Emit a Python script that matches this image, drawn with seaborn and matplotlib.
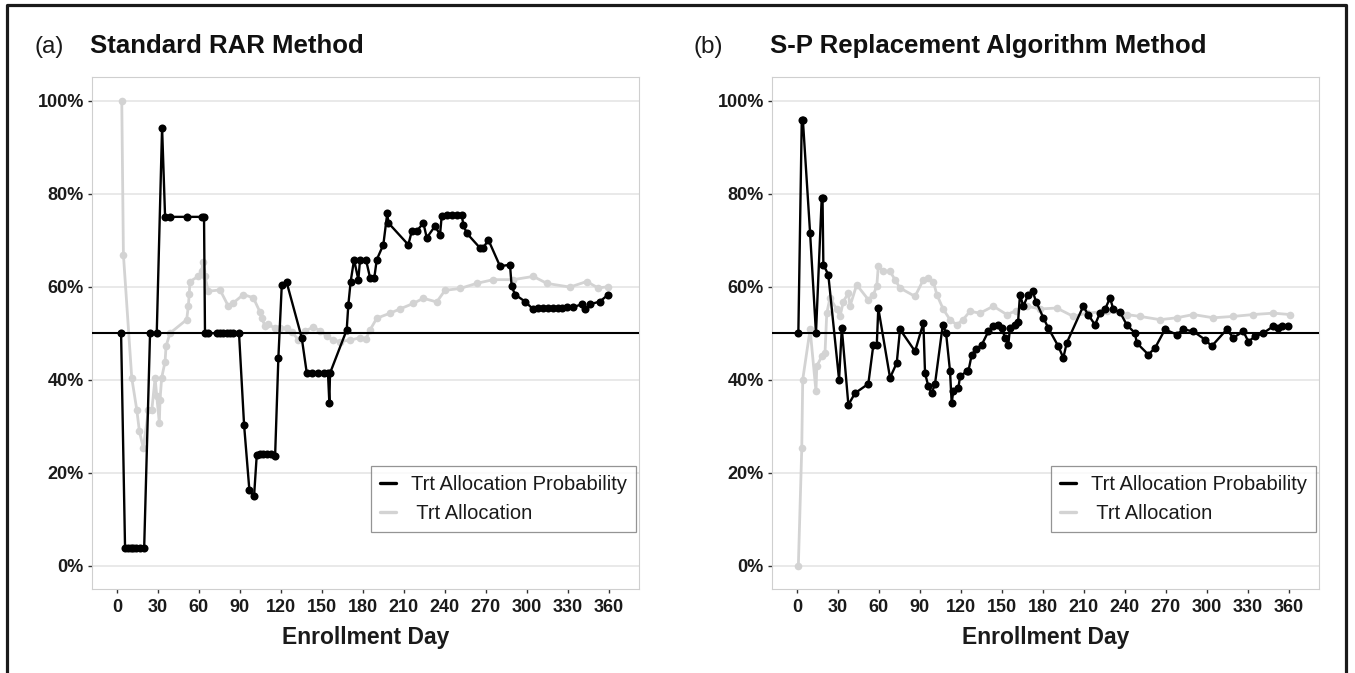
import matplotlib
matplotlib.use("Agg")
import matplotlib.pyplot as plt
import numpy as np
import pandas as pd
import seaborn as sns
from matplotlib.lines import Line2D
from matplotlib.ticker import PercentFormatter

# ---------------- data (percent) ----------------
a_prob_day = [3.1, 6.0, 8.0, 10.0, 12.0, 14.0, 17.0, 20.0, 24.3, 29.2, 33.1, 35.3, 38.9, 51.6, 62.1, 63.8,
              64.5, 66.7, 73.1, 75.5, 77.7, 80.4, 82.8, 85.0, 89.4, 93.1, 97.0, 100.4, 102.4, 104.8, 107.0,
              110.0, 112.8, 115.8, 118.2, 120.7, 124.3, 135.3, 139.0, 142.8, 147.2, 151.6, 154.5, 155.5,
              156.0, 168.2, 169.4, 171.1, 173.6, 176.7, 178.0, 182.3, 185.3, 188.4, 190.2, 195.0, 197.9,
              198.7, 213.3, 215.8, 219.4, 224.3, 226.8, 232.8, 236.5, 237.7, 241.4, 245.0, 248.7, 252.4,
              253.5, 256.0, 265.8, 268.2, 271.8, 280.4, 287.7, 288.9, 291.4, 298.7, 304.8, 308.2, 311.9,
              315.5, 319.2, 322.8, 325.5, 329.2, 334.0, 340.2, 342.6, 346.2, 353.5, 359.6]
a_prob_val = [50, 3.9, 3.9, 3.9, 3.9, 3.9, 3.9, 3.9, 50, 50, 94.2, 75, 75, 75, 75, 75,
              50, 50, 50, 50, 50, 50, 50, 50, 50, 30.3, 16.2, 14.9, 23.9, 24, 24,
              24, 24, 23.5, 44.7, 60.4, 60.9, 49, 41.4, 41.4, 41.4, 41.4, 41.4, 35,
              41.4, 50.7, 56.1, 61.1, 65.8, 61.5, 65.8, 65.8, 61.9, 61.9, 65.8, 69, 75.8,
              73.7, 69, 71.9, 71.9, 73.7, 70.5, 73, 71.2, 75.1, 75.5, 75.5, 75.5, 75.5,
              73.3, 71.5, 68.3, 68.3, 70.1, 64.4, 64.7, 60.1, 58.3, 56.8, 55.1, 55.3, 55.3,
              55.3, 55.3, 55.3, 55.3, 55.6, 55.6, 56.2, 55.1, 56.2, 56.8, 58.3]

a_alloc_day = [3.6, 4.8, 10.9, 14.6, 16.5, 19.4, 23.1, 25.6, 28.0, 29.2, 31.1, 31.6, 32.8, 35.3, 36.0,
               38.9, 51.1, 52.3, 53.0, 53.5, 59.5, 62.0, 63.2, 64.5, 66.9, 75.5, 81.6, 85.2, 92.6, 99.9,
               104.8, 106.0, 108.4, 110.6, 115.8, 119.4, 124.3, 128.2, 132.8, 138.0, 143.8, 148.7, 153.6,
               158.2, 163.3, 170.6, 177.9, 182.3, 185.3, 190.2, 200.0, 207.2, 217.0, 224.3, 234.1, 240.1,
               251.1, 263.3, 275.5, 290.1, 304.8, 314.6, 331.6, 343.8, 352.3, 359.6]
a_alloc_val = [100, 66.9, 40.4, 33.5, 28.9, 25.3, 33.5, 33.5, 40.4, 36.4, 30.7, 35.7, 40.4, 43.9, 47.2,
               50, 52.9, 55.8, 58.5, 61.1, 62.2, 63.3, 65.4, 62.2, 59, 59.3, 55.8, 56.5, 58.3, 57.6,
               54.5, 53.3, 51.5, 52, 51, 51.1, 51.1, 50.2, 48.6, 50.5, 51.3, 50.5, 49.4,
               48.5, 48.2, 48.5, 49, 48.8, 50.7, 53.2, 54.3, 55.2, 56.4, 57.5, 56.7, 59.2,
               59.6, 60.7, 61.5, 61.5, 62.2, 60.7, 59.9, 61.1, 59.7, 60]

b_prob_day = [1.1, 3.6, 4.4, 9.7, 14.0, 18.2, 18.8, 19.4, 23.0, 30.9, 32.9, 37.7, 42.6, 52.3, 56.0, 58.5,
              59.6, 68.2, 73.1, 75.5, 86.5, 92.6, 93.8, 96.2, 98.7, 101.1, 106.8, 109.2, 112.1, 113.3,
              114.5, 118.2, 119.4, 124.3, 125.5, 128.0, 131.1, 135.3, 140.2, 143.8, 147.5, 150.0, 152.3,
              154.7, 156.0, 159.6, 161.9, 163.3, 165.7, 169.4, 172.6, 175.0, 180.4, 184.0, 191.3, 195.0,
              197.5, 209.6, 213.1, 218.2, 221.8, 225.5, 229.2, 231.6, 236.5, 241.4, 247.5, 248.7, 257.2,
              262.1, 269.4, 278.0, 282.8, 290.1, 298.7, 303.6, 314.6, 319.4, 326.7, 330.4, 335.3, 341.3,
              348.7, 352.3, 354.8, 359.6]
b_prob_val = [50, 95.9, 95.9, 71.5, 50, 79.1, 79.1, 64.7, 62.6, 40, 51.1, 34.6, 37.1, 39.1, 47.5, 47.5,
              55.4, 40.4, 43.6, 50.8, 46.1, 52.2, 41.4, 38.6, 37.1, 39.1, 51.8, 50, 41.8, 35,
              37.5, 38.2, 40.7, 41.8, 41.8, 45.4, 46.5, 47.5, 50.4, 51.5, 51.8, 51.1, 49,
              47.5, 51.1, 51.8, 52.5, 58.3, 55.8, 58.3, 59, 56.8, 53.3, 51.1, 47.2, 44.7,
              47.9, 55.8, 54, 51.8, 54.3, 55.1, 57.6, 55.1, 54.5, 51.8, 50, 47.9, 45.4,
              46.8, 50.8, 49.7, 50.8, 50.4, 48.6, 47.2, 50.8, 49, 50.4, 48.2, 49.3, 50,
              51.5, 51.1, 51.5, 51.5]

b_alloc_day = [1.1, 3.6, 4.3, 9.7, 14.0, 14.6, 18.2, 20.6, 21.9, 24.3, 29.2, 31.6, 34.0, 37.7, 38.9,
               43.8, 52.3, 56.0, 58.5, 59.6, 63.3, 68.2, 71.8, 75.5, 86.5, 92.6, 96.2, 99.9, 102.4,
               107.2, 112.1, 117.0, 121.6, 126.7, 134.0, 143.8, 153.6, 160.4, 168.2, 178.0, 190.2,
               202.3, 212.1, 226.8, 241.4, 251.1, 265.8, 278.0, 290.1, 304.8, 319.4, 334.0, 348.7, 360.9]
b_alloc_val = [0, 25.3, 40, 50.8, 37.5, 42.9, 45, 45.7, 54.3, 57.6, 55.1, 53.6, 56.8, 58.6, 55.8,
               60.4, 57.2, 58.3, 60.1, 64.4, 63.3, 63.3, 61.5, 59.7, 57.9, 61.5, 61.9, 61.1, 58.3,
               55.1, 52.9, 51.8, 52.9, 54.7, 54.3, 55.8, 54, 54.8, 55.8, 55.2, 55.4,
               53.6, 54.3, 54.7, 54, 53.6, 52.9, 53.3, 54, 53.3, 53.6, 54, 54.3, 54]

x_ticks = [0, 30, 60, 90, 120, 150, 180, 210, 240, 270, 300, 330, 360]
y_ticks = [0, 20, 40, 60, 80, 100]
panel_tags = ["(a)", "(b)"]
panel_titles = ["Standard RAR Method", "S-P Replacement Algorithm Method"]
legend_labels = ["Trt Allocation Probability", " Trt Allocation"]
x_label = "Enrollment Day"

# ---------------- style ----------------
sns.set_theme(style="white")
plt.rcParams['font.family'] = ['Liberation Sans', 'DejaVu Sans']

BLACK = "#000000"
GRAY = "#d3d3d3"

W, H = 1355, 673
fig = plt.figure(figsize=(W / 100, H / 100), dpi=100)

ax_left_px = [91.7, 771.7]
ax_w_px = 547.3
ax_top_px, ax_bot_px = 77.3, 589.0
tag_x_px = [35, 694]

panels = [
    (a_prob_day, a_prob_val, a_alloc_day, a_alloc_val),
    (b_prob_day, b_prob_val, b_alloc_day, b_alloc_val),
]

for i, (pd_, pv_, ad_, av_) in enumerate(panels):
    ax = fig.add_axes([ax_left_px[i] / W, 1 - ax_bot_px / H, ax_w_px / W, (ax_bot_px - ax_top_px) / H])
    df_alloc = pd.DataFrame({"day": ad_, "value": av_})
    df_prob = pd.DataFrame({"day": pd_, "value": pv_})

    for yv in y_ticks:
        ax.axhline(yv, color="#e3e3e3", lw=1.1, zorder=0)

    sns.lineplot(data=df_alloc, x="day", y="value", ax=ax, estimator=None, sort=False,
                 color=GRAY, lw=2.0, marker="o", markersize=5.5, markeredgewidth=0, zorder=2)
    ax.axhline(50, color="black", lw=1.5, zorder=3)
    sns.lineplot(data=df_prob, x="day", y="value", ax=ax, estimator=None, sort=False,
                 color=BLACK, lw=1.7, marker="o", markersize=5.8, markeredgewidth=0, zorder=4)

    ax.set_xlim(-18.4, 382.1)
    ax.set_ylim(-5, 105)
    ax.set_xticks(x_ticks)
    ax.set_yticks(y_ticks)
    ax.yaxis.set_major_formatter(PercentFormatter(100, decimals=0))
    ax.grid(False)
    for s in ax.spines.values():
        s.set_color("#cfcfcf")
        s.set_linewidth(0.8)
    ax.tick_params(axis="both", which="major", length=3.2, width=1.0, color="#333333",
                   labelsize=13, labelcolor="#1a1a1a", bottom=True, left=True)
    ax.tick_params(axis="x", pad=4)
    ax.tick_params(axis="y", pad=2.5)
    for lab in ax.get_xticklabels() + ax.get_yticklabels():
        lab.set_fontweight("bold")
    ax.set_xlabel(x_label, fontsize=16.5, fontweight="bold", color="#1a1a1a", labelpad=7)
    ax.set_ylabel("")

    handles = [Line2D([0], [0], color=BLACK, lw=2.4),
               Line2D([0], [0], color=GRAY, lw=2.4)]
    leg = ax.legend(handles, legend_labels, loc="upper right",
                    bbox_to_anchor=(0.9945, 0.2404), borderaxespad=0, fontsize=14.5,
                    frameon=True, fancybox=False, handlelength=0.8, handletextpad=0.75,
                    borderpad=0.45, labelspacing=0.5)
    leg.get_frame().set_edgecolor("#7a7a7a")
    leg.get_frame().set_linewidth(0.9)
    for t in leg.get_texts():
        t.set_color("#1a1a1a")

    fig.text(tag_x_px[i] / W, 1 - 53.3 / H, panel_tags[i], fontsize=17.5, color="#1a1a1a",
             ha="left", va="baseline")
    fig.text(ax_left_px[i] / W - 2 / W, 1 - 53.3 / H, panel_titles[i], fontsize=18.5, fontweight="bold",
             color="#111111", ha="left", va="baseline")

# outer border (left, top, right)
bx0, bx1, by = 7 / W, 1346 / W, 1 - 5 / H
fig.add_artist(Line2D([bx0, bx0, bx1, bx1], [0, by, by, 0], transform=fig.transFigure,
                      color="#1a1a1a", lw=2.3))

fig.savefig("out.png", dpi=100)
